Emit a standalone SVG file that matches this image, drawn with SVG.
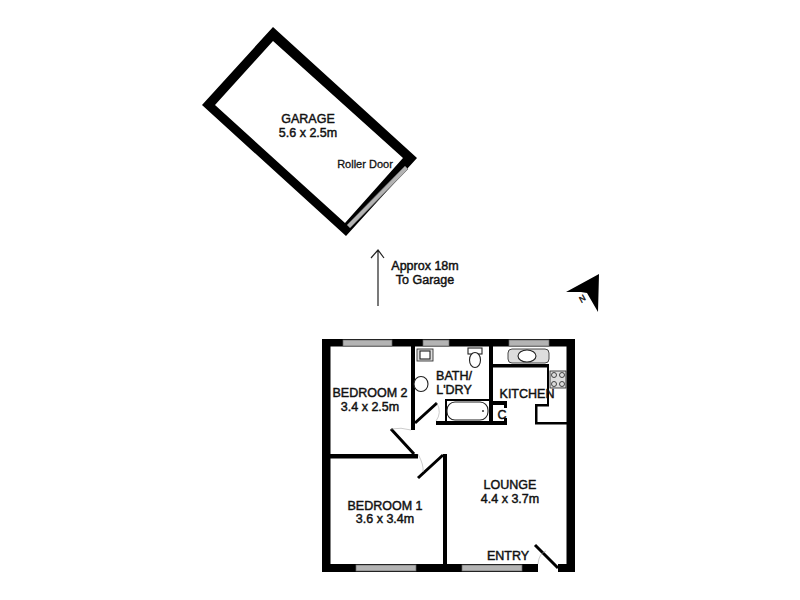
<svg xmlns="http://www.w3.org/2000/svg" width="800" height="600" viewBox="0 0 800 600">
<style>
text{font-family:"Liberation Sans",Arial,sans-serif;font-size:12.5px;fill:#111;stroke:#111;stroke-width:.45;text-anchor:middle}
.w{fill:#000;stroke:none}
.win{fill:#b4b4b4;stroke:#666;stroke-width:.7}
.f{fill:#fff;stroke:#222;stroke-width:1.1}
.g{fill:#ddd;stroke:#333;stroke-width:.9}
.door{fill:none;stroke:#000;stroke-width:3}
.arc{fill:none;stroke:#aaa;stroke-width:.6}
</style>
<rect width="800" height="600" fill="#fff"/>
<g id="garage">
<path class="w" fill-rule="evenodd" d="M273 27 417 158 346 236 202 105ZM273 41 215 105 345 223 403 158Z"/>
<polygon class="win" points="405,166 408,169 350,228 347,225"/>
<text x="308" y="123">GARAGE</text>
<text x="308" y="137">5.6 x 2.5m</text>
<text x="365" y="168" style="font-size:11px;stroke-width:.3">Roller Door</text>
</g>
<g id="connectors">
<path d="M378 306V250M371 258 378 250 384 258" fill="none" stroke="#222" stroke-width="1.2"/>
</g>
<g id="arrow-label">
<text x="425" y="270">Approx 18m</text>
<text x="425" y="284">To Garage</text>
</g>
<g id="north">
<polygon class="w" points="566,292 599,274 598,312 587,293 581,292"/>
<text transform="translate(584,301) rotate(-40)" style="font-size:8.500px;font-style:italic;stroke-width:.4">N</text>
</g>
<g id="walls">
<rect class="w" x="322" y="339" width="253" height="7.500"/>
<rect class="w" x="322" y="339" width="8.500" height="233"/>
<rect class="w" x="566.500" y="339" width="8.500" height="233"/>
<rect class="w" x="322" y="564" width="216" height="8"/>
<rect class="w" x="558" y="564" width="17" height="8"/>
<rect class="win" x="343" y="340" width="49" height="6"/>
<rect class="win" x="423" y="340" width="26" height="6"/>
<rect class="win" x="509" y="340" width="40" height="6"/>
<rect class="win" x="356" y="565" width="60" height="6"/>
<rect class="win" x="462" y="565" width="60" height="6"/>
<rect class="w" x="411" y="346" width="4" height="84"/>
<rect class="w" x="330" y="454" width="88" height="4.500"/>
<rect class="w" x="443" y="454" width="4" height="110"/>
<rect class="w" x="489" y="346" width="4" height="79"/>
<rect class="w" x="436" y="421" width="71" height="4"/>
<rect class="w" x="445" y="399" width="45" height="2"/>
<rect class="w" x="445" y="399" width="2" height="23"/>
<rect class="w" x="493" y="401" width="14" height="4"/>
<rect class="w" x="504" y="401" width="3" height="7"/>
<rect class="w" x="504" y="418" width="3" height="7"/>
<rect class="w" x="493" y="364" width="56" height="3.500"/>
<rect class="w" x="547" y="364" width="2" height="42"/>
<rect class="w" x="535" y="404" width="14" height="2.500"/>
<rect class="w" x="535" y="404" width="2.500" height="20"/>
<rect class="w" x="535" y="422" width="32" height="2.500"/>
</g>
<g id="doors">
<path class="door" d="M415 423 437 403M391 429 414 454M443 455 418 478M535 545 558 568"/>
<path class="arc" d="M437 403Q442 413 436 421M391 429Q401 427 411 430M418 454Q424 465 423 472M538 564Q539 553 546 551"/>
</g>
<g id="fixtures">
<rect class="g" x="417" y="349" width="16" height="12"/>
<rect class="f" x="420" y="351" width="10" height="8"/>
<ellipse class="f" cx="421" cy="384" rx="7" ry="7.500"/>
<rect class="f" x="468" y="348" width="14" height="6"/>
<ellipse class="f" cx="475" cy="360" rx="5.500" ry="7.500"/>
<rect class="f" x="447" y="402" width="41" height="18" rx="8"/>
<circle cx="483" cy="411" r="1" fill="#333"/>
<rect class="g" x="508" y="349" width="41" height="14" rx="4"/>
<ellipse class="f" cx="527" cy="356" rx="9" ry="6"/>
<rect class="g" x="550" y="371" width="16" height="17"/>
<circle class="g" cx="554" cy="375" r="2.500"/><circle class="g" cx="562" cy="375" r="2.500"/>
<circle class="g" cx="554" cy="384" r="2.500"/><circle class="g" cx="562" cy="384" r="2.500"/>
</g>
<g id="bedroom2"><text x="370" y="397">BEDROOM 2</text><text x="370" y="411">3.4 x 2.5m</text></g>
<g id="bedroom1"><text x="385" y="510">BEDROOM 1</text><text x="385" y="523">3.6 x 3.4m</text></g>
<g id="bath"><text x="454" y="380">BATH/</text><text x="454" y="394">L'DRY</text></g>
<g id="kitchen"><text x="527" y="398">KITCHEN</text><text x="502" y="419">C</text></g>
<g id="lounge"><text x="510" y="489">LOUNGE</text><text x="510" y="503">4.4 x 3.7m</text></g>
<g id="entry"><text x="508" y="560">ENTRY</text></g>
</svg>
